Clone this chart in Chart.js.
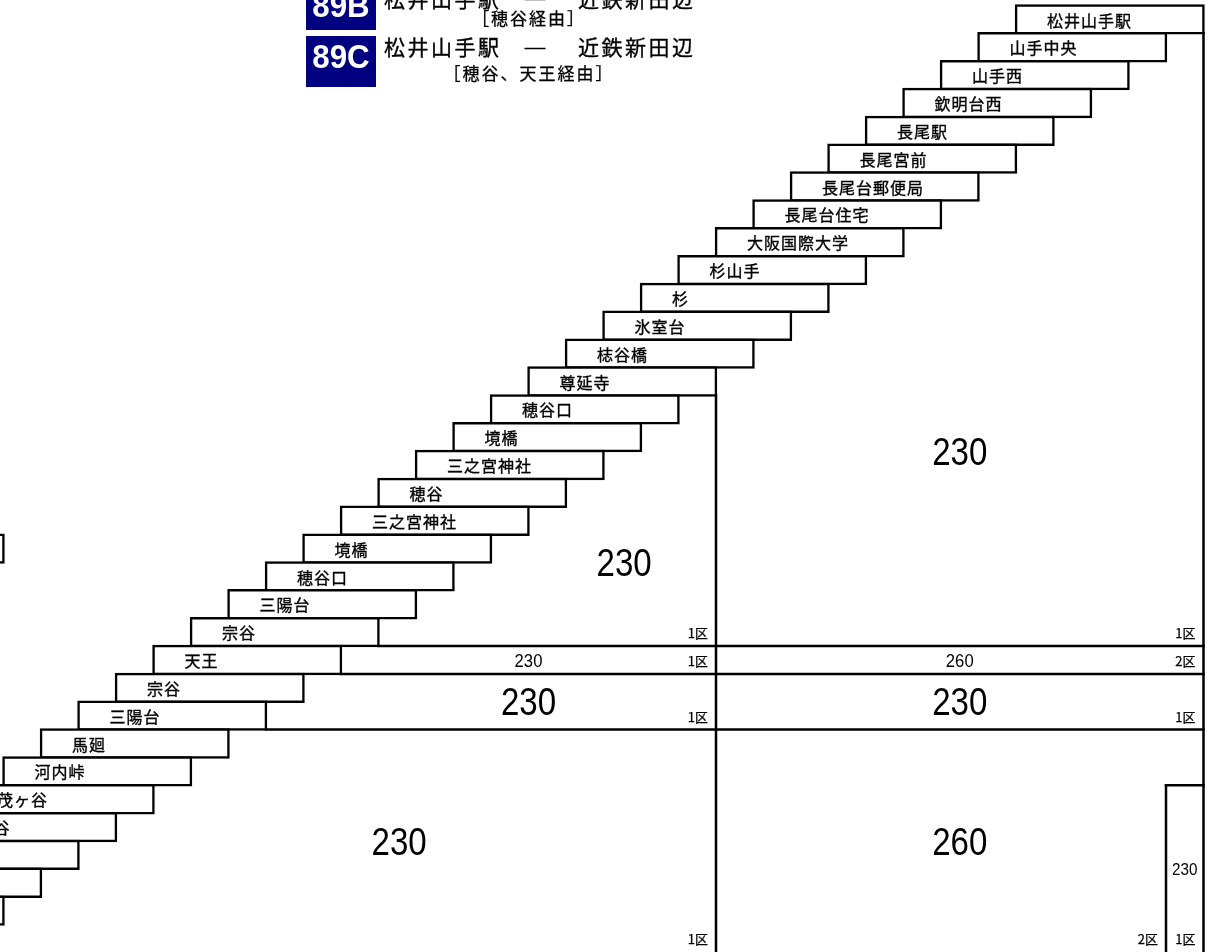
<!DOCTYPE html>
<html>
<head>
<meta charset="utf-8">
<script src="https://cdn.jsdelivr.net/npm/chart.js@4.4.1/dist/chart.umd.min.js"></script>
<style>
html,body{margin:0;padding:0;background:#fff;overflow:hidden}
#wrap{width:1212px;height:952px;position:relative;background:#fff}
canvas{display:block}
</style>
</head>
<body>
<div id="wrap"><canvas id="c" width="1212" height="952"></canvas></div>
<script>
// ================= DATA =================
// stops on the stair, top (row 0) to bottom
const stops = ['松井山手駅','山手中央','山手西','欽明台西','長尾駅','長尾宮前','長尾台郵便局','長尾台住宅',
  '大阪国際大学','杉山手','杉','氷室台','梽谷橋','尊延寺','穂谷口','境橋','三之宮神社','穂谷',
  '三之宮神社','境橋','穂谷口','三陽台','宗谷','天王','宗谷','三陽台','馬廻','河内峠',
  '茂ヶ谷','水取谷','高船','打田','普賢寺','多々羅'];
// route header
const routeCodes = ['89B', '89C'];
const routeFrom = '松井山手駅';
const routeTo = '近鉄新田辺';
const routeDash = '―';
const routeVia = ['［穂谷経由］', '［穂谷、天王経由］'];
// fare blocks
const fares = [230, 230, 260, 230, 230, 230, 260, 230, 230];
const zones = ['1区', '1区', '2区', '1区', '1区', '1区', '2区', '1区', '1区'];

// ================= TABLE STRUCTURE (cell indices) =================
// columns are counted from the right edge of the table, rows from the top
const BOX_SPAN = 5;              // a stop box covers 5 columns
const ROWS_END = stops.length + 0.6;
// vertical block borders: [column, fromRow, toRow]
const vBorders = [[0, 1, ROWS_END], [13, 14, ROWS_END], [1, 28, ROWS_END]];
// horizontal block borders: [row, fromColumn, toColumn]
const hBorders = [[23, 22, 0], [24, 23, 0], [26, 25, 0], [28, 1, 0]];
// part of the neighbouring table at the left edge: [row, rightColumn]
const neighbourBoxes = [[19, 32]];

// ================= LAYOUT =================
const STEP_PX = 37.5, ROW_PX = 27.85, ORIGIN_X = 1203.5, ORIGIN_Y = 5.5;
const W = 1212, H = 952;
const X_MAX = ORIGIN_X / STEP_PX, X_MIN = X_MAX - W / STEP_PX;
const Y_MIN = -ORIGIN_Y / ROW_PX, Y_MAX = Y_MIN + H / ROW_PX;
const LINE_W = 2.5;
// per block: number anchor [column, row], number size key, zone label row, zone label column
const blockNumPos = [[6.5, 16.0], [15.45, 20.0], [6.5, 23.5], [18, 23.5], [6.5, 25.0], [18, 25.0], [6.5, 30.0], [0.5, 31.0], [21.45, 30.0]];
const blockNumSize = ['L', 'L', 'M', 'M', 'L', 'L', 'L', 'S', 'L'];
const blockZonePos = [[0, 22.5], [13, 22.5], [0, 23.5], [13, 23.5], [0, 25.5], [13, 25.5], [1, 33.5], [0, 33.5], [13, 33.5]];
const NUM_STYLE = { L: { px: 38, sx: 0.87 }, M: { px: 18.5, sx: 0.9 }, S: { px: 16, sx: 0.95 } };

const CJK = '"Noto Sans CJK JP", "Noto Sans CJK SC", sans-serif';
const LAT = '"Liberation Sans", Arial, sans-serif';

function drawNum(ctx, text, cx, cy, px, sx, weight) {
  ctx.save();
  ctx.font = (weight || '') + ' ' + px + 'px ' + LAT;
  ctx.textAlign = 'center';
  ctx.textBaseline = 'alphabetic';
  ctx.translate(cx, cy + px * 0.358);
  ctx.scale(sx, 1);
  ctx.fillText(text, 0, 0);
  ctx.restore();
}

// fill + hairline stroke so the CJK text gets the slightly heavier look of the original
function heavyText(ctx, text, x, y, w) {
  ctx.fillText(text, x, y);
  ctx.lineWidth = w;
  ctx.strokeStyle = ctx.fillStyle;
  ctx.strokeText(text, x, y);
}

const textPlugin = {
  id: 'fareText',
  afterDatasetsDraw(chart) {
    const { ctx } = chart;
    const xs = chart.scales.x, ys = chart.scales.y;
    ctx.save();
    ctx.fillStyle = '#000';
    // stop names
    ctx.font = '16px ' + CJK;
    ctx.letterSpacing = '1px';
    ctx.textAlign = 'left';
    ctx.textBaseline = 'middle';
    stops.forEach((name, r) => {
      const left = xs.getPixelForValue(r + BOX_SPAN);
      const cy = ys.getPixelForValue(r + 0.5);
      heavyText(ctx, name, left + 31, cy + 1, 0.35);
    });
    ctx.letterSpacing = '0px';
    // fares
    fares.forEach((f, i) => {
      const st = NUM_STYLE[blockNumSize[i]];
      const [c, r] = blockNumPos[i];
      drawNum(ctx, String(f), xs.getPixelForValue(c), ys.getPixelForValue(r), st.px, st.sx);
    });
    // zone labels
    ctx.font = '13px ' + CJK;
    ctx.textAlign = 'right';
    ctx.textBaseline = 'middle';
    zones.forEach((z, i) => {
      const [c, r] = blockZonePos[i];
      heavyText(ctx, z, xs.getPixelForValue(c) - 8, ys.getPixelForValue(r) + 1, 0.25);
    });
    // route header
    const boxes = [[-15, 30, 16.7, -1, 19], [36, 87, 68.3, 47.5, 74]];
    routeCodes.forEach((code, i) => {
      const [t, b, base, cy, vy] = boxes[i];
      ctx.fillStyle = '#000080';
      ctx.fillRect(306, t, 70, b - t);
      ctx.fillStyle = '#fff';
      ctx.save();
      ctx.font = 'bold 34px ' + LAT;
      ctx.textAlign = 'center';
      ctx.textBaseline = 'alphabetic';
      ctx.translate(341, base);
      ctx.scale(0.92, 1);
      ctx.fillText(code, 0, 0);
      ctx.restore();
      ctx.fillStyle = '#000';
      ctx.font = '21px ' + CJK;
      ctx.letterSpacing = '2.5px';
      ctx.textAlign = 'left';
      ctx.textBaseline = 'middle';
      heavyText(ctx, routeFrom, 384, cy, 0.35);
      heavyText(ctx, routeTo, 578, cy, 0.35);
      ctx.letterSpacing = '0px';
      ctx.textAlign = 'center';
      ctx.font = '24px ' + CJK;
      heavyText(ctx, routeDash, 535, cy, 0.4);
      ctx.font = '17px ' + CJK;
      ctx.letterSpacing = '2px';
      heavyText(ctx, routeVia[i], 529, vy, 0.3);
      ctx.letterSpacing = '0px';
    });
    ctx.restore();
  }
};

const lineDs = (pts) => ({
  type: 'line', data: pts, borderColor: '#000', borderWidth: LINE_W,
  pointRadius: 0, fill: false, tension: 0, borderCapStyle: 'square'
});

const barStyle = {
  backgroundColor: '#fff', borderColor: '#000', borderWidth: LINE_W, borderSkipped: false,
  inflateAmount: LINE_W / 2, grouped: false, barThickness: ROW_PX
};

new Chart(document.getElementById('c'), {
  type: 'bar',
  data: {
    datasets: [
      Object.assign({ label: 'stops', data: stops.map((s, r) => ({ y: r + 0.5, x: [r, r + BOX_SPAN] })) }, barStyle),
      Object.assign({ label: 'neighbour', data: neighbourBoxes.map(([r, c]) => ({ y: r + 0.5, x: [c, c + BOX_SPAN] })) }, barStyle),
      ...vBorders.map(([c, r0, r1]) => lineDs([{ x: c, y: r0 }, { x: c, y: r1 }])),
      ...hBorders.map(([r, c0, c1]) => lineDs([{ x: c0, y: r }, { x: c1, y: r }]))
    ]
  },
  options: {
    indexAxis: 'y',
    responsive: false,
    animation: false,
    devicePixelRatio: 1,
    events: [],
    layout: { padding: 0 },
    plugins: { legend: { display: false }, tooltip: { enabled: false }, title: { display: false } },
    scales: {
      x: { type: 'linear', display: false, reverse: true, min: X_MIN, max: X_MAX, offset: false },
      y: { type: 'linear', display: false, reverse: true, min: Y_MIN, max: Y_MAX, offset: false }
    }
  },
  plugins: [textPlugin]
});
</script>
</body>
</html>
